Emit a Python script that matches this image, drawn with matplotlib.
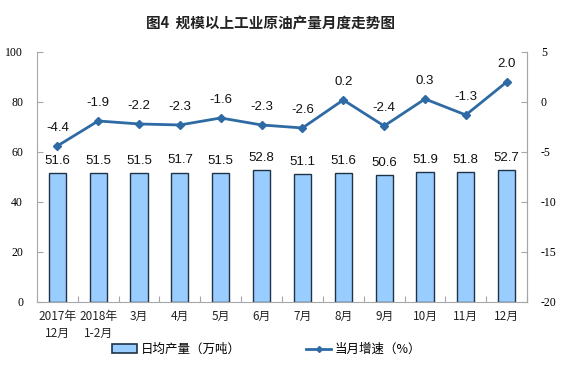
import matplotlib
matplotlib.use("Agg")
import matplotlib.pyplot as plt
import numpy as np

plt.rcParams['font.family'] = ['Noto Sans CJK SC', 'DejaVu Sans']

categories = ["2017年\n12月", "2018年\n1-2月", "3月", "4月", "5月", "6月", "7月", "8月", "9月", "10月", "11月", "12月"]
output = [51.6, 51.5, 51.5, 51.7, 51.5, 52.8, 51.1, 51.6, 50.6, 51.9, 51.8, 52.7]
growth = [-4.4, -1.9, -2.2, -2.3, -1.6, -2.3, -2.6, 0.2, -2.4, 0.3, -1.3, 2.0]
left_ticks = [0, 20, 40, 60, 80, 100]
right_ticks = [-20, -15, -10, -5, 0, 5]

fig = plt.figure(figsize=(5.68, 3.66), dpi=100)
ax = fig.add_axes([0.065, 0.175, 0.863, 0.683])
x = np.arange(len(categories))

bar_color = '#99CCFF'
edge_color = '#1F3347'
line_color = '#2E6AA3'
spine_color = '#A6A6A6'

ax.bar(x, output, width=0.42, color=bar_color, edgecolor=edge_color, linewidth=1.0, zorder=2)
ax.set_xlim(-0.5, len(categories) - 0.5)
ax.set_ylim(0, 100)
ax.set_yticks(left_ticks)
ax.set_yticklabels([str(t) for t in left_ticks], family='Liberation Serif', fontsize=8.5)
for i, v in enumerate(output):
    ax.text(i, v + 2.5, f"{v:.1f}", ha='center', va='bottom', fontsize=9.5, family='Liberation Sans', color='#111111')

ax.set_xticks(np.arange(-0.5, len(categories), 1), minor=False)
ax.set_xticklabels([])
ax.set_xticks(x, minor=True)
ax.set_xticklabels(categories, minor=True, fontsize=8.5, color='#222222', linespacing=1.35)
ax.tick_params(axis='x', which='minor', length=0, pad=6)
ax.tick_params(axis='x', which='major', length=4, color=spine_color, direction='in')
ax.tick_params(axis='y', length=4, color=spine_color, direction='in', pad=10)

ax.spines['top'].set_visible(False)
for s in ['left', 'right', 'bottom']:
    ax.spines[s].set_color(spine_color)

ax2 = ax.twinx()
ax2.plot(x, growth, color=line_color, linewidth=2.0, marker='D', markersize=4.5, zorder=3)
ax2.set_ylim(-20, 5)
ax2.set_yticks(right_ticks)
ax2.set_yticklabels([str(t) for t in right_ticks], family='Liberation Serif', fontsize=8.5)
ax2.tick_params(axis='y', length=4, color=spine_color, direction='in', pad=10)
for s in ['top', 'left', 'bottom']:
    ax2.spines[s].set_visible(False)
ax2.spines['right'].set_color(spine_color)
for i, v in enumerate(growth):
    ax2.text(i, v + 1.2, f"{v:.1f}", ha='center', va='bottom', fontsize=9.5, family='Liberation Sans', color='#111111')

fig.text(0.476, 0.935, "图4  规模以上工业原油产量月度走势图", ha='center', va='center', fontsize=10.5, fontweight='bold', color='#222222')

from matplotlib.patches import Patch
from matplotlib.lines import Line2D
h1 = Patch(facecolor=bar_color, edgecolor=edge_color, linewidth=1.2)
h2 = Line2D([0], [0], color=line_color, linewidth=2, marker='D', markersize=3)
fig.legend([h1, h2], ["日均产量（万吨）", "当月增速（%）"], loc='center', bbox_to_anchor=(0.47, 0.045),
           ncol=2, frameon=False, fontsize=9, columnspacing=5.2, handlelength=2.0, handletextpad=0.3)

fig.savefig("out.png", dpi=100)
